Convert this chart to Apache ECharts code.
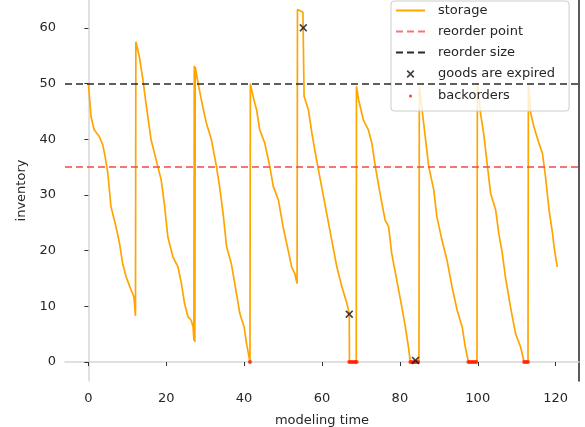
<!DOCTYPE html>
<html>
<head>
<meta charset="utf-8">
<script src="https://cdn.jsdelivr.net/npm/echarts@6.0.0/dist/echarts.min.js"></script>
<style>
  html, body { margin: 0; padding: 0; background: #fff; }
  #chart { width: 585px; height: 427px; }
</style>
</head>
<body>
<div id="chart"></div>
<script>
// storage level over modeling time
const time = [0, 0.7, 1.5, 2.8, 3.7, 4.3, 5, 5.8, 7.1, 8, 8.8, 9.7, 11, 11.7, 12.1, 12.2,
  13.1, 14, 14.9, 16.1, 17.4, 18.7, 19.6, 20.4, 21.7, 23, 23.9, 24.7, 25.6, 26.4, 26.9, 27.1, 27.2, 27.35, 27.45,
  28.2, 29, 30.3, 31.6, 32.9, 33.7, 34.6, 35.5, 36.7, 37.6, 38.9, 40, 40.6, 41.5, 41.6,
  42.3, 43.2, 44, 45.3, 46.6, 47.5, 48.8, 50, 51.3, 52.2, 53, 53.6, 53.7, 55.1, 55.4,
  56.5, 57.4, 58.6, 59.9, 61.2, 62.5, 63.8, 65.1, 66.4, 67, 67.05, 68.8, 68.85,
  69.4, 70.6, 71.9, 72.8, 73.7, 74.9, 76.2, 77.1, 77.9, 79.2, 80.5, 81.4, 82.2, 82.7, 84.9, 85,
  85.7, 86.5, 87.4, 88.7, 89.5, 90.8, 92.1, 93.4, 94.7, 96, 96.8, 97.6, 99.8, 99.9,
  100.7, 101.5, 102.4, 103.3, 104.6, 105.4, 106.3, 107.1, 108.4, 109.7, 111, 111.9, 112.9, 113,
  113.6, 114.4, 115.7, 116.6, 117.4, 118.3, 119.2, 119.6, 120.4];
const storage = [50, 44, 41.7, 40.5, 39, 36.9, 33.9, 27.9, 24.3, 21.3, 17.7, 15.3, 12.9, 11.7, 8.3, 57.5,
  54.8, 50.7, 45.9, 39.9, 36.3, 32.7, 27.9, 22.5, 18.9, 17.1, 14.1, 10.5, 8.1, 7.5, 6.3, 3.9, 53.2, 3.6, 53,
  50, 47.1, 42.9, 39.9, 35.1, 31.5, 26.7, 20.7, 17.7, 14.1, 8.7, 6.3, 3.4, 0, 50,
  47.7, 45.3, 41.7, 39.3, 35.1, 31.5, 29.1, 24.3, 20.1, 17.1, 15.9, 14.1, 63.3, 62.8, 47.7,
  45.3, 41.1, 36.3, 31.5, 26.7, 21.9, 17.1, 13.5, 10.5, 8.7, 0, 0, 49.5,
  47.1, 43.5, 41.7, 39.3, 35.1, 30.3, 25.5, 24.3, 19.5, 14.7, 9.9, 6.3, 2.7, 0, 0, 49.5,
  45.3, 40.5, 35.1, 30.9, 26.1, 21.9, 18.3, 13.5, 9.3, 6.3, 2.7, 0, 0, 50,
  44.7, 41.1, 35.7, 30.3, 27.3, 23.1, 19.5, 15.3, 9.9, 5.1, 2.7, 0, 0, 50,
  44.7, 42.3, 39.3, 37.5, 33.3, 27.3, 23.1, 20.7, 17.1];

const reorderPoint = 35;
const reorderSize = 50;

const expiredTime = [55.2, 67, 84];
const expiredValue = [60, 8.6, 0.3];

const backorderTime = [41.5, 67.0, 67.5, 68.0, 68.5, 68.9, 82.7, 83.2, 83.7, 84.2, 84.7,
  97.6, 98.1, 98.6, 99.1, 99.6, 111.9, 112.4, 112.9];
const backorderValue = [0, 0, 0, 0, 0, 0, 0, 0, 0, 0, 0, 0, 0, 0, 0, 0, 0, 0, 0];

const xTicks = [0, 20, 40, 60, 80, 100, 120];
const yTicks = [0, 10, 20, 30, 40, 50, 60];

const zip = (xs, ys) => xs.map((x, i) => [x, ys[i]]);

const crossPath = "path://M0,1.5L1.5,0L5,3.5L8.5,0L10,1.5L6.5,5L10,8.5L8.5,10L5,6.5L1.5,10L0,8.5L3.5,5Z";
const crossLegend = "path://M-4,-4M14,14M0,1.5L1.5,0L5,3.5L8.5,0L10,1.5L6.5,5L10,8.5L8.5,10L5,6.5L1.5,10L0,8.5L3.5,5Z";
const dotLegend = "path://M-5,-5M5,5M-1.1,0A1.1,1.1 0 1 1 1.1,0A1.1,1.1 0 1 1 -1.1,0Z";

const font = "DejaVu Sans";
const noSymbol = { opacity: 0 };

const chart = echarts.init(document.getElementById("chart"), null, { renderer: "canvas" });
const option = {
  animation: false,
  backgroundColor: "#fff",
  textStyle: { fontFamily: font },
  grid: { left: 65, right: 6, top: 0, bottom: 46, outerBoundsMode: "none", containLabel: false },
  legend: {
    orient: "vertical",
    left: 391,
    top: 1,
    padding: [3, 14, 8, 4],
    itemWidth: 29,
    itemHeight: 14,
    itemGap: 8,
    selectedMode: false,
    backgroundColor: "rgba(255,255,255,0.8)",
    borderColor: "#cccccc",
    borderWidth: 1,
    borderRadius: 3,
    textStyle: { fontFamily: font, fontSize: 13, color: "#262626", padding: [0, 0, 0, 8] },
    data: [
      { name: "storage", itemStyle: noSymbol },
      { name: "reorder point", itemStyle: noSymbol },
      { name: "reorder size", itemStyle: noSymbol },
      { name: "goods are expired", icon: crossLegend },
      { name: "backorders", icon: dotLegend },
    ],
  },
  xAxis: {
    type: "value",
    min: -6,
    max: 126,
    name: "modeling time",
    nameLocation: "middle",
    nameGap: 33,
    nameTextStyle: { fontFamily: font, fontSize: 13, color: "#262626" },
    axisLine: { lineStyle: { color: "#d6d6d6", width: 1.5 } },
    axisTick: { customValues: xTicks, length: 4, lineStyle: { color: "#333" } },
    axisLabel: { customValues: xTicks, margin: 11, fontFamily: font, fontSize: 13, color: "#262626" },
    splitLine: { show: false },
  },
  yAxis: [
    {
      type: "value",
      min: -3.4,
      max: 65,
      name: "inventory",
      nameLocation: "middle",
      nameGap: 30,
      nameTextStyle: { fontFamily: font, fontSize: 13, color: "#262626" },
      axisLine: { show: true, lineStyle: { color: "#d6d6d6", width: 1.5 } },
      axisTick: { show: true, customValues: yTicks, length: 4, lineStyle: { color: "#333" } },
      axisLabel: { customValues: yTicks, margin: 9, fontFamily: font, fontSize: 13, color: "#262626" },
      splitLine: { show: false },
    },
    {
      type: "value",
      position: "right",
      min: -3.4,
      max: 65,
      axisLine: { show: true, lineStyle: { color: "#222", width: 1.5 } },
      axisTick: { show: false },
      axisLabel: { show: false },
      splitLine: { show: false },
    },
  ],
  series: [
    {
      name: "reorder point",
      type: "line",
      data: [],
      symbol: "none",
      color: "rgba(245,70,70,0.75)",
      lineStyle: { color: "rgba(245,70,70,0.75)", width: 2, type: [7, 4] },
      markLine: {
        silent: true,
        symbol: "none",
        label: { show: false },
        lineStyle: { color: "rgba(245,70,70,0.75)", width: 2, type: [7, 4] },
        data: [{ yAxis: reorderPoint }],
      },
    },
    {
      name: "reorder size",
      type: "line",
      data: [],
      symbol: "none",
      color: "#2a2a2a",
      lineStyle: { color: "#2a2a2a", width: 1.5, type: [7, 4] },
      markLine: {
        silent: true,
        symbol: "none",
        label: { show: false },
        lineStyle: { color: "#2a2a2a", width: 1.5, type: [7, 4] },
        data: [{ yAxis: reorderSize }],
      },
    },
    {
      name: "storage",
      type: "line",
      data: zip(time, storage),
      symbol: "none",
      color: "#FFA500",
      lineStyle: { color: "#FFA500", width: 1.7 },
      z: 3,
    },
    {
      name: "backorders",
      type: "scatter",
      data: zip(backorderTime, backorderValue),
      symbol: "circle",
      symbolSize: 4,
      itemStyle: { color: "#ff1a00" },
      z: 4,
    },
    {
      name: "goods are expired",
      type: "scatter",
      data: zip(expiredTime, expiredValue),
      symbol: crossPath,
      symbolSize: 8,
      itemStyle: { color: "#111" },
      z: 5,
    },
  ],
};
chart.setOption(option);
</script>
</body>
</html>
